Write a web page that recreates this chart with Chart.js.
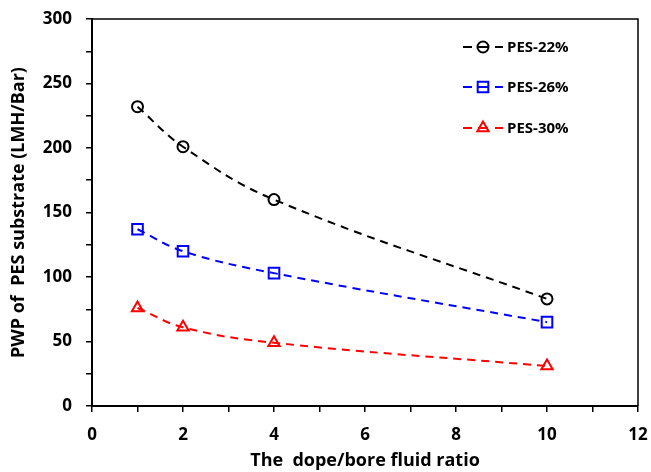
<!DOCTYPE html>
<html>
<head>
<meta charset="utf-8">
<script src="https://cdn.jsdelivr.net/npm/chart.js@4"></script>
<style>
html,body{margin:0;padding:0;background:#fff;}
#wrap{width:651px;height:472px;}
</style>
</head>
<body>
<div id="wrap"><canvas id="c" width="651" height="472"></canvas></div>
<script>
const xValues = [1, 2, 4, 10];
const seriesNames = ['PES-22%', 'PES-26%', 'PES-30%'];
const pes22 = [232, 201, 160, 83];
const pes26 = [137, 120, 103, 65];
const pes30 = [76, 61, 49, 31];
const xTicks = [0, 2, 4, 6, 8, 10, 12];
const yTicks = [0, 50, 100, 150, 200, 250, 300];

const FONT = '"Open Sans", Lato, "Liberation Sans", sans-serif';
const colors = ['#000000', '#0000ff', '#ff0000'];
const styles = ['circle', 'rect', 'triangle'];
const radii = [5.5, 7.5, 6.5];
const allSeries = [pes22, pes26, pes30];

const datasets = allSeries.map((vals, i) => ({
  label: seriesNames[i],
  data: xValues.map((x, j) => ({x: x, y: vals[j]})),
  borderColor: colors[i],
  backgroundColor: 'rgba(0,0,0,0)',
  borderWidth: 2,
  borderDash: [8, 6],
  tension: 0.4,
  pointStyle: styles[i],
  pointRadius: radii[i],
  pointBorderWidth: 2,
  pointBorderColor: colors[i],
  pointBackgroundColor: 'rgba(0,0,0,0)'
}));

const framePlugin = {
  id: 'frame',
  afterDraw(chart) {
    const {ctx, chartArea: a} = chart;
    ctx.save();
    ctx.strokeStyle = '#000';
    ctx.lineWidth = 1.5;
    ctx.beginPath();
    ctx.moveTo(a.left, a.top);
    ctx.lineTo(a.right, a.top);
    ctx.lineTo(a.right, a.bottom);
    ctx.stroke();
    // legend
    const rows = [47, 87, 128];
    seriesNames.forEach((name, i) => {
      const y = rows[i];
      ctx.strokeStyle = colors[i];
      ctx.lineWidth = 2;
      ctx.setLineDash([]);
      ctx.beginPath();
      ctx.moveTo(463, y); ctx.lineTo(472, y);
      ctx.moveTo(478, y); ctx.lineTo(488, y);
      ctx.moveTo(495, y); ctx.lineTo(503, y);
      ctx.stroke();
      ctx.fillStyle = 'rgba(0,0,0,0)';
      Chart.helpers.drawPoint(ctx, {pointStyle: styles[i], radius: radii[i], rotation: 0, borderWidth: 2}, 483, y);
      ctx.fillStyle = '#000';
      ctx.font = 'bold 15px ' + FONT;
      ctx.textBaseline = 'middle';
      ctx.textAlign = 'left';
      ctx.fillText(name, 507, y + 1);
    });
    ctx.restore();
  }
};

new Chart(document.getElementById('c'), {
  type: 'line',
  data: {datasets},
  options: {
    responsive: false,
    animation: false,
    devicePixelRatio: 1,
    layout: {padding: {top: 19, right: 13, left: 0, bottom: 0}},
    plugins: {legend: {display: false}, tooltip: {enabled: false}},
    scales: {
      x: {
        type: 'linear',
        min: 0, max: 12,
        afterBuildTicks(scale) {
          const t = [];
          for (let v = 0; v <= 12; v++) t.push({value: v});
          scale.ticks = t;
        },
        afterFit(scale) { scale.height = 66; scale.paddingLeft = 0; scale.paddingRight = 0; },
        grid: {drawOnChartArea: false, drawTicks: true, tickLength: 6, color: '#000', lineWidth: 1.5},
        border: {display: true, color: '#000', width: 2},
        ticks: {
          color: '#000',
          font: {family: FONT, size: 17, weight: 'bold'},
          padding: 13,
          maxRotation: 0,
          autoSkip: false,
          callback: v => xTicks.includes(v) ? String(v) : ''
        },
        title: {display: true, text: 'The  dope/bore fluid ratio', color: '#000',
          font: {family: FONT, size: 18, weight: 'bold'}, padding: {top: 4, bottom: 0}}
      },
      y: {
        type: 'linear',
        min: 0, max: 300,
        afterBuildTicks(scale) {
          const t = [];
          for (let v = 0; v <= 300; v += 25) t.push({value: v});
          scale.ticks = t;
        },
        afterFit(scale) { scale.width = 92; scale.paddingTop = 0; scale.paddingBottom = 0; },
        grid: {drawOnChartArea: false, drawTicks: true, tickLength: 6, color: '#000', lineWidth: 1.5},
        border: {display: true, color: '#000', width: 2},
        ticks: {
          color: '#000',
          font: {family: FONT, size: 17, weight: 'bold'},
          padding: 14,
          autoSkip: false,
          callback: v => yTicks.includes(v) ? String(v) : ''
        },
        title: {display: true, text: 'PWP of  PES substrate (LMH/Bar)', color: '#000',
          font: {family: FONT, size: 18, weight: 'bold'}, padding: {top: 8, bottom: 0}}
      }
    }
  },
  plugins: [framePlugin]
});
</script>
</body>
</html>
